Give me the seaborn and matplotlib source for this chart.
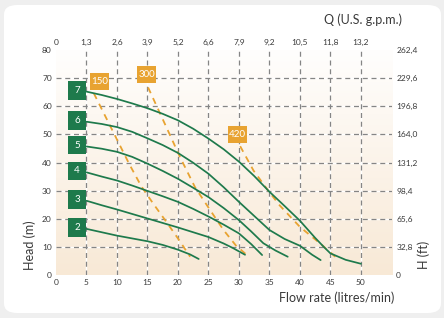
import numpy as np
import pandas as pd
import matplotlib.pyplot as plt
import seaborn as sns
from matplotlib.patches import FancyBboxPatch, Rectangle

# pump curves: flow (litres/min) vs head (m)
q2 = [5, 7.5, 10, 12.5, 15, 17.5, 20, 22, 23.4]
h2 = [16.4, 15.2, 14.0, 13.0, 12.0, 10.7, 9.0, 7.3, 5.7]
q3 = [5, 7.5, 10, 12.5, 15, 17.5, 20, 22.5, 25, 27.5, 29, 31]
h3 = [26.4, 24.8, 23.3, 21.7, 20.1, 18.5, 16.9, 15.2, 13.5, 11.2, 9.6, 7.2]
q4 = [5, 7.5, 10, 12.5, 15, 17.5, 20, 22.5, 25, 27.5, 30, 32, 33.8]
h4 = [36.5, 35.0, 33.6, 31.8, 29.9, 28.0, 26.0, 23.5, 20.8, 17.9, 14.8, 11.0, 7.1]
q5 = [5, 7.5, 10, 12.5, 15, 17.5, 20, 22.5, 25, 27.5, 30, 32, 34, 36, 38]
h5 = [45.7, 44.9, 43.8, 42.0, 39.6, 37.0, 34.2, 31.0, 27.7, 23.8, 19.5, 15.5, 11.3, 8.7, 6.5]
q6 = [5, 7.5, 10, 12.5, 15, 17.5, 20, 22.5, 25, 27.5, 30, 32.5, 35, 37.5, 40, 42, 43.4]
h6 = [54.5, 53.7, 52.6, 50.9, 48.6, 46.2, 43.4, 39.9, 36.0, 31.2, 26.0, 21.0, 16.0, 12.8, 10.4, 7.2, 5.3]
q7 = [5, 7.5, 10, 12.5, 15, 17.5, 20, 22.5, 25, 27.5, 30, 32.5, 35, 37.5, 40, 42.5, 44, 45, 47.5, 50]
h7 = [65.2, 64.0, 62.6, 61.0, 59.3, 57.3, 55.0, 52.0, 48.5, 44.7, 40.3, 35.2, 29.6, 24.5, 19.3, 13.2, 9.8, 7.7, 5.4, 4.0]
pump_names = ["2", "3", "4", "5", "6", "7"]

# dashed orange lines
q150 = [6.2, 9, 12, 14, 16, 18, 20, 22]
h150 = [64.6, 52.5, 39.5, 31.5, 25.2, 19.2, 13.0, 6.5]
q300 = [15.1, 17.9, 20.3, 22.8, 25.3, 27.5, 29.5, 31.3]
h300 = [66.7, 53.5, 42.1, 31.2, 23.0, 15.9, 10.5, 7.1]
q420 = [30.2, 32.4, 34.8, 36.7, 40, 43.6, 46.1]
h420 = [45.8, 37.1, 30.0, 24.7, 17.1, 10.7, 5.9]
dash_names = ["150", "300", "420"]

x_ticks = [0, 5, 10, 15, 20, 25, 30, 35, 40, 45, 50]
gpm_labels = ["0", "1,3", "2,6", "3,9", "5,2", "6,6", "7,9", "9,2", "10,5", "11,8", "13,2"]
y_ticks = [0, 10, 20, 30, 40, 50, 60, 70, 80]
ft_labels = ["0", "32,8", "65,6", "98,4", "131,2", "164,0", "196,8", "229,6", "262,4"]

pumps = pd.concat([pd.DataFrame({"q": q, "h": h, "pump": n})
                   for q, h, n in zip([q2, q3, q4, q5, q6, q7], [h2, h3, h4, h5, h6, h7], pump_names)])
dashes = pd.concat([pd.DataFrame({"q": q, "h": h, "line": n})
                    for q, h, n in zip([q150, q300, q420], [h150, h300, h420], dash_names)])

GREEN = "#1e7a4c"
ORANGE = "#e8a331"
GRID = "#858585"
TXT = "#3a3a3a"

sns.set_style("white")
plt.rcParams["font.family"] = ["Lato", "DejaVu Sans"]

fig = plt.figure(figsize=(4.44, 3.18), dpi=100)
fig.patch.set_facecolor("#efefef")
card = FancyBboxPatch((4 / 444, 5 / 318), 437 / 444, 308 / 318,
                      boxstyle="round,pad=0,rounding_size=0.03",
                      transform=fig.transFigure, facecolor="white", edgecolor="none", zorder=-5)
fig.patches.append(card)

W, H = 444, 318
ax = fig.add_axes([56 / W, 1 - 275 / H, (392 - 56) / W, 225 / H])
ax.set_xlim(0, 55.1)
ax.set_ylim(0, 80)

# background gradient
grad = np.linspace(0, 1, 256).reshape(-1, 1)
cmap = sns.blend_palette(["#f8e9d6", "#fffefd"], as_cmap=True)
ax.imshow(grad, extent=[0, 55.1, 0, 80], origin="lower", aspect="auto", cmap=cmap, zorder=0)

for y in y_ticks[1:-1]:
    ax.axhline(y, color="white", lw=1.0, zorder=1)
    ax.axhline(y, color=GRID, lw=0.9, ls=(0, (4, 3)), zorder=1.1)
for x in x_ticks[1:]:
    ax.axvline(x, color="white", lw=1.0, zorder=1)
    ax.axvline(x, color=GRID, lw=0.9, ls=(0, (4, 3)), zorder=1.1)

sns.lineplot(data=dashes, x="q", y="h", units="line", estimator=None, sort=False,
             color=ORANGE, lw=1.3, dashes=False, ax=ax, zorder=2)
for line in ax.lines[-3:]:
    line.set_linestyle((0, (3.5, 3)))
sns.lineplot(data=pumps, x="q", y="h", units="pump", estimator=None, sort=False,
             color=GREEN, lw=1.25, ax=ax, zorder=3)

bw, bh = 3.1, 6.7
for n, q, h in zip(pump_names, [q2, q3, q4, q5, q6, q7], [h2, h3, h4, h5, h6, h7]):
    cy = h[0] + 0.5
    ax.add_patch(Rectangle((q[0] - bw, cy - bh / 2), bw, bh, facecolor=GREEN, edgecolor="none", zorder=4))
    ax.text(q[0] - bw / 2, cy, n, color="white", ha="center", va="center", fontsize=7, zorder=5)

label_shift = {"150": (0.9, 4.3), "300": (-0.25, 4.6), "420": (-0.45, 4.3)}
for n, q, h in zip(dash_names, [q150, q300, q420], [h150, h300, h420]):
    dx, dy = label_shift[n]
    cx, cy = q[0] + dx, h[0] + dy
    ax.add_patch(Rectangle((cx - bw / 2, cy - bh / 2 + 0.3), bw, bh - 0.6, facecolor=ORANGE, edgecolor="none", zorder=4))
    ax.text(cx, cy, n, color="white", ha="center", va="center", fontsize=7, zorder=5)

for s in ax.spines.values():
    s.set_visible(False)
ax.set_xticks(x_ticks)
ax.set_yticks(y_ticks)
ax.tick_params(length=0, labelsize=6, labelcolor=TXT, pad=3)
ax.set_xlabel("")
ax.set_ylabel("")

top = ax.twiny()
top.set_xlim(ax.get_xlim())
top.set_xticks(x_ticks)
top.set_xticklabels(gpm_labels)
right = ax.twinx()
right.set_ylim(ax.get_ylim())
right.set_yticks(y_ticks)
right.set_yticklabels(ft_labels)
for a in (top, right):
    for s in a.spines.values():
        s.set_visible(False)
    a.tick_params(length=0, labelsize=6, labelcolor=TXT, pad=3)

fig.text(30 / W, 1 - 245 / H, "Head (m)", rotation=90, ha="center", va="center", fontsize=9, color=TXT)
fig.text(424 / W, 1 - 255 / H, "H (ft)", rotation=90, ha="center", va="center", fontsize=9, color=TXT)
fig.text(394 / W, 1 - 298 / H, "Flow rate (litres/min)", ha="right", va="center", fontsize=9, color=TXT)
fig.text(402 / W, 1 - 20 / H, "Q (U.S. g.p.m.)", ha="right", va="center", fontsize=9, color=TXT)

fig.savefig("out.png", dpi=100, facecolor=fig.get_facecolor())
